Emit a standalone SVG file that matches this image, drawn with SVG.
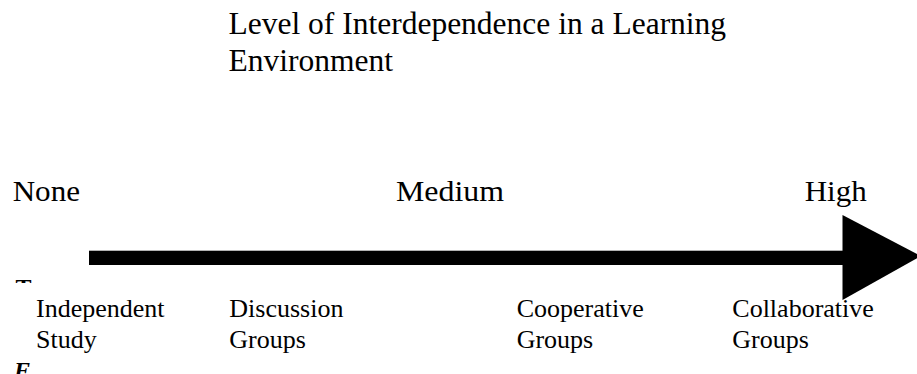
<svg xmlns="http://www.w3.org/2000/svg" width="917" height="374" viewBox="0 0 917 374">
  <style>
    text { font-family: "Liberation Serif", "Times New Roman", serif; fill: #000; }
    .title { font-size: 31.5px; }
    .scale { font-size: 30px; }
    .label { font-size: 26px; }
    .frag { font-size: 24px; font-weight: bold; }
  </style>
  <defs>
    <clipPath id="clipTop"><rect x="0" y="277" width="40" height="6"/></clipPath>
    <clipPath id="clipBottom"><rect x="0" y="360" width="40" height="14"/></clipPath>
  </defs>
  <rect width="917" height="374" fill="#fff"/>

  <!-- heading -->
  <g id="title">
    <text class="title" x="228.5" y="34.3">Level of Interdependence in a Learning</text>
    <text class="title" x="228.5" y="71">Environment</text>
  </g>

  <!-- scale markers above the arrow -->
  <g id="scale-none"><text class="scale" x="12.7" y="200.5" textLength="67.3" lengthAdjust="spacingAndGlyphs">None</text></g>
  <g id="scale-medium"><text class="scale" x="396" y="200.5" textLength="108" lengthAdjust="spacingAndGlyphs">Medium</text></g>
  <g id="scale-high"><text class="scale" x="804.7" y="200.5" textLength="62" lengthAdjust="spacingAndGlyphs">High</text></g>

  <!-- the interdependence axis -->
  <g id="connectors">
    <rect x="89" y="250.7" width="754" height="14.3" fill="#000"/>
    <polygon points="842.5,215 921,256 842.5,300" fill="#000"/>
  </g>

  <!-- learning arrangements along the axis -->
  <g id="independent-study">
    <text class="label" x="36" y="317.3">Independent</text>
    <text class="label" x="36" y="347.5">Study</text>
  </g>
  <g id="discussion-groups">
    <text class="label" x="229.3" y="317.3">Discussion</text>
    <text class="label" x="229.3" y="347.5">Groups</text>
  </g>
  <g id="cooperative-groups">
    <text class="label" x="516.7" y="317.3">Cooperative</text>
    <text class="label" x="516.7" y="347.5">Groups</text>
  </g>
  <g id="collaborative-groups">
    <text class="label" x="732.3" y="317.3">Collaborative</text>
    <text class="label" x="732.3" y="347.5">Groups</text>
  </g>

  <!-- cut-off letters at the left edge -->
  <g id="fragments">
    <text class="frag" x="15.5" y="295" clip-path="url(#clipTop)">T</text>
    <text class="frag" x="14" y="378" font-style="italic" clip-path="url(#clipBottom)">F</text>
  </g>
</svg>
